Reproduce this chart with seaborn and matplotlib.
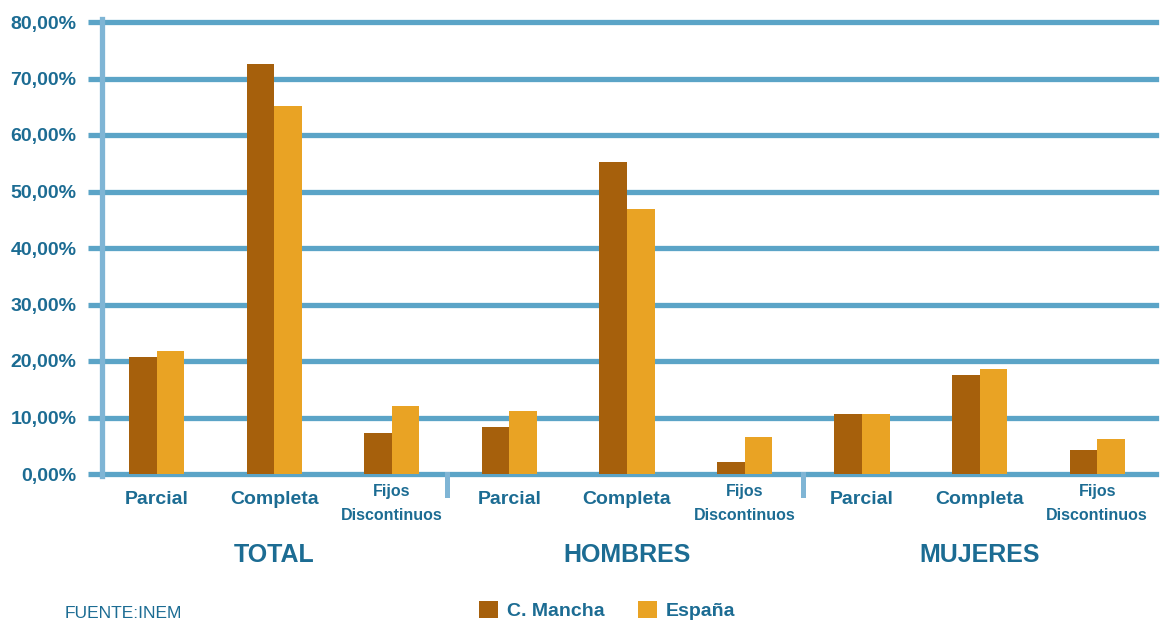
import matplotlib
matplotlib.use("Agg")
import matplotlib.pyplot as plt
import numpy as np
import pandas as pd
import seaborn as sns
from matplotlib.patches import Patch

# datos (porcentaje de contratos)
grupos = ["TOTAL", "HOMBRES", "MUJERES"]
tipos = ["Parcial", "Completa", "Fijos\nDiscontinuos"]
series = ["C. Mancha", "España"]
c_mancha = [20.7, 72.6, 7.3, 8.3, 55.2, 2.1, 10.6, 17.5, 4.2]
espana = [21.8, 65.1, 12.0, 11.2, 46.9, 6.5, 10.6, 18.6, 6.2]
y_ticks = [0, 10, 20, 30, 40, 50, 60, 70, 80]

col_cm = "#A6600C"
col_es = "#E9A324"
col_grid = "#5BA4C7"
col_axis = "#7FB5D5"
col_txt = "#1C6C93"

plt.rcParams['font.family'] = ['Liberation Sans', 'DejaVu Sans']

claves = [f"{g}-{t}" for g in grupos for t in tipos]
df = pd.DataFrame({
    "cat": claves * 2,
    "serie": [series[0]] * len(claves) + [series[1]] * len(claves),
    "valor": c_mancha + espana,
})

fig = plt.figure(figsize=(11.6, 6.21), dpi=100)
W, H = 1160, 621
ax = fig.add_axes([101.5 / W, (H - 474) / H, (1156 - 101.5) / W, (474 - 22) / H])

sns.barplot(data=df, x="cat", y="valor", hue="serie", order=claves,
            palette=[col_cm, col_es], width=0.47, saturation=1,
            linewidth=0, ax=ax, legend=False)

ax.set_xlim(-0.47, 8.5)
ax.set_ylim(0, 80)
ax.set_yticks(y_ticks)
ax.set_yticklabels([f"{v},00%" for v in y_ticks], fontsize=14,
                   fontweight='bold', color=col_txt)
ax.set_xticks([])
ax.set_xlabel("")
ax.set_ylabel("")

ax.set_axisbelow(True)
ax.yaxis.grid(True, color=col_grid, linewidth=3.8)
for gl in ax.yaxis.get_gridlines():
    gl.set_clip_on(False)
ax.tick_params(axis='y', length=10, width=3.8, color=col_grid, pad=8)
for s in ["top", "right", "bottom"]:
    ax.spines[s].set_visible(False)
ax.spines["left"].set_color(col_axis)
ax.spines["left"].set_linewidth(3.8)
ax.spines["left"].set_bounds(-0.4, 80.6)
ax.spines["left"].set_zorder(3)

# etiquetas de categorias
for i, clave in enumerate(claves):
    t = tipos[i % 3]
    if "\n" in t:
        ax.text(i, -0.066, t, transform=ax.get_xaxis_transform(), ha='center',
                va='center', fontsize=11.5, fontweight='bold', color=col_txt,
                linespacing=1.75)
    else:
        ax.text(i, -0.056, t, transform=ax.get_xaxis_transform(), ha='center',
                va='center', fontsize=14, fontweight='bold', color=col_txt)

# titulos de grupo y separadores
for k, g in enumerate(grupos):
    ax.text(3 * k + 1, -0.179, g, transform=ax.get_xaxis_transform(),
            ha='center', va='center', fontsize=18, fontweight='bold', color=col_txt)
for xs in [2.47, 5.5]:
    ax.axvline(xs, ymin=-0.046, ymax=0, color=col_axis, linewidth=3.6,
               clip_on=False, zorder=3)

# leyenda
handles = [Patch(facecolor=col_cm, edgecolor='none'),
           Patch(facecolor=col_es, edgecolor='none')]
leg = fig.legend(handles, series, loc='upper left',
                 bbox_to_anchor=(479 / W, 1 - 601 / H), ncol=2, frameon=False,
                 borderpad=0, borderaxespad=0, handlelength=1.0, handleheight=1.0,
                 handletextpad=0.45, columnspacing=1.7,
                 prop={'size': 14, 'weight': 'bold'})
for t in leg.get_texts():
    t.set_color(col_txt)

fig.text(65 / W, 1 - 606 / H, "FUENTE:INEM", ha='left', va='top',
         fontsize=12.5, color=col_txt)

fig.savefig("out.png", dpi=100)
